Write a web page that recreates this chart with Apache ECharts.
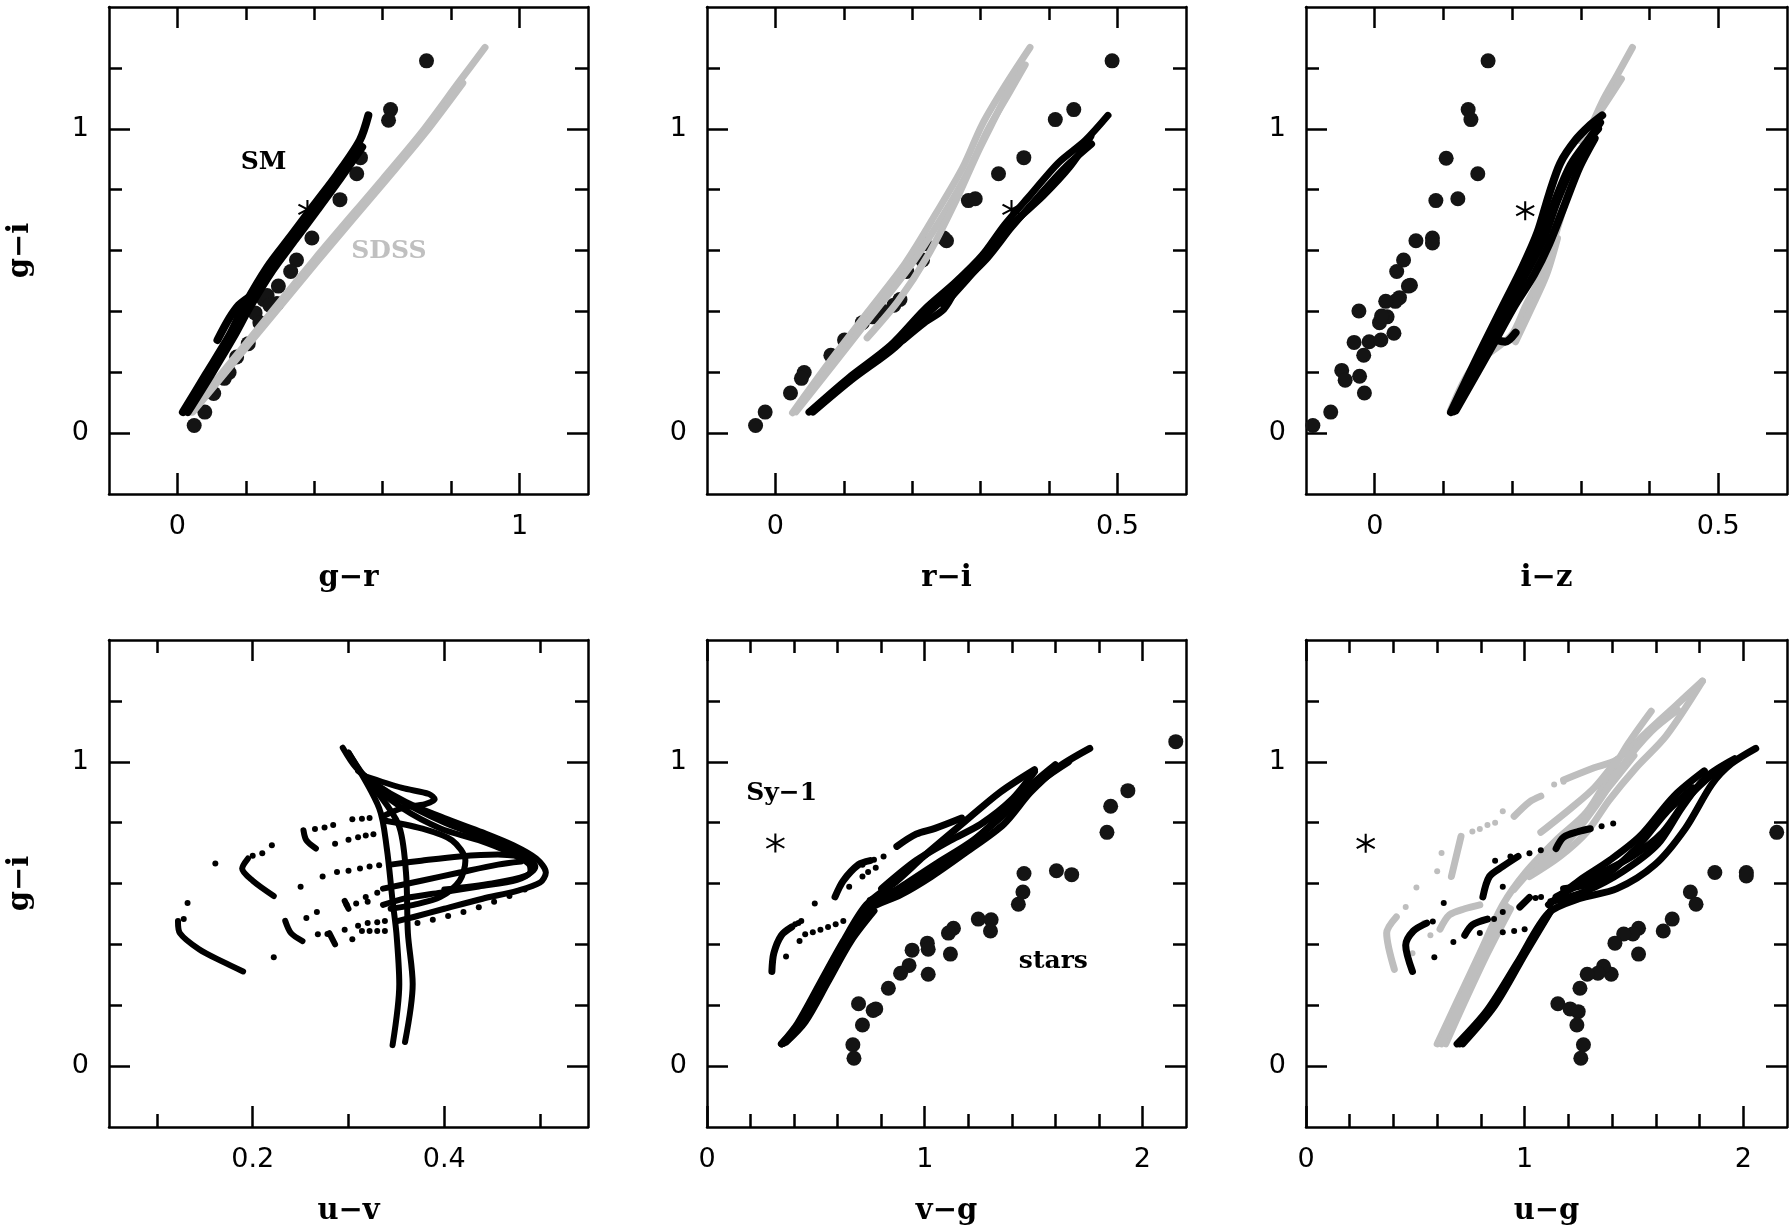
<!DOCTYPE html>
<html>
<head>
<meta charset="utf-8">
<script src="https://cdn.jsdelivr.net/npm/echarts@6/dist/echarts.min.js"></script>
<style>
html, body { margin: 0; padding: 0; background: #fff; }
#main { width: 1792px; height: 1230px; }
</style>
</head>
<body>
<div id="main"></div>
<script>
// ---- axis setup per panel ----
var xNames = ['g\u2212r', 'r\u2212i', 'i\u2212z', 'u\u2212v', 'v\u2212g', 'u\u2212g'];
var xRanges = [[-0.2, 1.2], [-0.1, 0.6], [-0.1, 0.6], [0.05, 0.55], [0, 2.2], [0, 2.2]];
var xTicks = [
    [0, 0.2, 0.4, 0.6, 0.8, 1.0],
    [0, 0.1, 0.2, 0.3, 0.4, 0.5],
    [0, 0.1, 0.2, 0.3, 0.4, 0.5],
    [0.1, 0.2, 0.3, 0.4, 0.5],
    [0.2, 0.4, 0.6, 0.8, 1.0, 1.2, 1.4, 1.6, 1.8, 2.0],
    [0.2, 0.4, 0.6, 0.8, 1.0, 1.2, 1.4, 1.6, 1.8, 2.0]
];
var xLabels = [[0, 1], [0, 0.5], [0, 0.5], [0.2, 0.4], [0, 1, 2], [0, 1, 2]];
var yRange = [-0.2, 1.4];
var yTicks = [0, 0.2, 0.4, 0.6, 0.8, 1.0, 1.2];
var yLabels = [0, 1];

// ---- stars (big dots), [colour, g-i] ----
var grStars = [[0.728,1.223],[0.623,1.063],[0.617,1.028],[0.535,0.905],[0.524,0.852],[0.475,0.767],[0.393,0.641],[0.348,0.569],[0.331,0.531],[0.295,0.483],[0.252,0.439],[0.291,0.426],[0.227,0.395],[0.241,0.363],[0.207,0.294],[0.173,0.250],[0.151,0.199],[0.137,0.180],[0.106,0.130],[0.080,0.069],[0.049,0.025],[0.262,0.452],[0.270,0.420]];
var riStars = [[0.492,1.223],[0.436,1.063],[0.409,1.030],[0.363,0.905],[0.326,0.852],[0.282,0.764],[0.292,0.770],[0.246,0.641],[0.250,0.632],[0.218,0.622],[0.215,0.569],[0.192,0.531],[0.182,0.439],[0.173,0.420],[0.156,0.401],[0.142,0.382],[0.127,0.363],[0.101,0.306],[0.081,0.256],[0.042,0.199],[0.038,0.180],[0.022,0.132],[-0.015,0.069],[-0.029,0.025]];
var izStars = [[0.165,1.223],[0.136,1.063],[0.140,1.030],[0.104,0.903],[0.150,0.852],[0.089,0.764],[0.121,0.770],[0.060,0.632],[0.084,0.641],[0.084,0.625],[0.042,0.569],[0.032,0.531],[0.049,0.483],[0.052,0.486],[0.036,0.445],[0.030,0.433],[0.016,0.433],[-0.023,0.401],[0.018,0.382],[0.007,0.363],[0.010,0.385],[0.028,0.328],[-0.030,0.298],[-0.008,0.300],[0.009,0.306],[-0.016,0.256],[-0.048,0.206],[-0.043,0.174],[-0.022,0.187],[-0.015,0.132],[-0.064,0.069],[-0.090,0.025]];
var vgStars = [[2.153,1.066],[1.933,0.905],[1.854,0.854],[1.837,0.768],[1.605,0.642],[1.675,0.629],[1.456,0.633],[1.451,0.572],[1.430,0.532],[1.246,0.483],[1.305,0.481],[1.302,0.444],[1.132,0.453],[1.109,0.437],[1.118,0.368],[1.012,0.404],[1.016,0.384],[1.016,0.302],[0.942,0.381],[0.928,0.331],[0.889,0.305],[0.833,0.256],[0.775,0.188],[0.763,0.183],[0.696,0.205],[0.714,0.135],[0.670,0.070],[0.675,0.026]];
var ugStars = [[2.153,0.768],[2.014,0.636],[2.014,0.625],[1.870,0.636],[1.758,0.572],[1.784,0.532],[1.675,0.483],[1.634,0.444],[1.521,0.453],[1.495,0.434],[1.521,0.368],[1.453,0.434],[1.413,0.404],[1.396,0.302],[1.361,0.328],[1.335,0.305],[1.286,0.302],[1.253,0.256],[1.152,0.205],[1.208,0.188],[1.245,0.179],[1.239,0.135],[1.269,0.070],[1.257,0.026]];

// ---- Sy-1 asterisk per panel (none visible in u-v) ----
var syOne = [[0.380,0.735], [0.345,0.735], [0.219,0.731], null, [0.314,0.733], [0.273,0.732]];

// ---- SM model tracks (black) ----
var grBlack = [
    [[0.016,0.069],[0.083,0.193],[0.151,0.319],[0.196,0.420],[0.263,0.546],[0.331,0.647],[0.398,0.748],[0.466,0.849],[0.533,0.962],[0.558,1.044]],
    [[0.030,0.069],[0.097,0.190],[0.165,0.318],[0.212,0.415],[0.278,0.535],[0.345,0.637],[0.410,0.735],[0.475,0.835],[0.540,0.940]],
    [[0.117,0.306],[0.151,0.376],[0.179,0.420],[0.207,0.445]]
];
var riBlack = [
    [[0.049,0.069],[0.106,0.180],[0.168,0.288],[0.218,0.407],[0.263,0.496],[0.302,0.584],[0.335,0.685],[0.374,0.786],[0.413,0.887],[0.453,0.962],[0.486,1.044]],
    [[0.055,0.069],[0.112,0.176],[0.175,0.282],[0.225,0.398],[0.270,0.488],[0.310,0.576],[0.345,0.676],[0.384,0.776],[0.423,0.872],[0.462,0.950]],
    [[0.246,0.420],[0.279,0.502],[0.313,0.590],[0.346,0.685],[0.391,0.779],[0.430,0.874],[0.461,0.975]],
    [[0.187,0.306],[0.218,0.363],[0.246,0.407],[0.263,0.470]]
];
var izBlack = [
    [[0.111,0.069],[0.132,0.168],[0.159,0.294],[0.187,0.420],[0.215,0.546],[0.237,0.660],[0.254,0.786],[0.270,0.887],[0.292,0.962],[0.314,1.013],[0.331,1.044]],
    [[0.118,0.075],[0.176,0.306],[0.204,0.420],[0.232,0.521],[0.254,0.622],[0.276,0.748],[0.298,0.874],[0.320,0.968]],
    [[0.200,0.440],[0.222,0.540],[0.245,0.650],[0.262,0.760],[0.285,0.880],[0.310,0.960],[0.325,1.000]],
    [[0.115,0.072],[0.168,0.300],[0.196,0.430],[0.224,0.540],[0.246,0.640],[0.265,0.760],[0.284,0.860],[0.305,0.940],[0.328,1.020]],
    [[0.176,0.306],[0.190,0.300],[0.205,0.330]]
];
var uvBlack = [
    [[0.294,1.046],[0.308,0.980],[0.328,0.927],[0.360,0.868],[0.400,0.815],[0.440,0.768],[0.472,0.726],[0.496,0.682],[0.506,0.636],[0.500,0.603],[0.476,0.576],[0.440,0.550],[0.400,0.517],[0.368,0.490],[0.352,0.477]],
    [[0.300,1.030],[0.320,0.940],[0.356,0.848],[0.396,0.781],[0.436,0.742],[0.468,0.702],[0.488,0.665],[0.490,0.640],[0.476,0.612],[0.436,0.590],[0.396,0.570],[0.360,0.552],[0.336,0.530]],
    [[0.310,0.970],[0.350,0.880],[0.400,0.800],[0.450,0.740],[0.485,0.690],[0.495,0.655],[0.485,0.625],[0.450,0.600],[0.400,0.580]],
    [[0.316,0.954],[0.356,0.914],[0.384,0.894],[0.390,0.877],[0.380,0.861],[0.356,0.848],[0.336,0.821]],
    [[0.336,0.808],[0.376,0.781],[0.408,0.742],[0.422,0.675],[0.416,0.609],[0.396,0.556],[0.368,0.530],[0.344,0.517]],
    [[0.344,0.662],[0.376,0.675],[0.416,0.689],[0.456,0.695],[0.480,0.689]],
    [[0.336,0.583],[0.376,0.609],[0.416,0.636],[0.456,0.662],[0.480,0.672]],
    [[0.300,1.030],[0.332,0.848],[0.340,0.715],[0.346,0.543],[0.350,0.437],[0.353,0.270],[0.346,0.069]],
    [[0.320,0.940],[0.352,0.795],[0.360,0.636],[0.362,0.437],[0.367,0.270],[0.359,0.079]],
    [[0.122,0.477],[0.124,0.437],[0.144,0.384],[0.168,0.344],[0.190,0.311]],
    [[0.195,0.682],[0.189,0.649],[0.200,0.609],[0.222,0.559]],
    [[0.253,0.775],[0.256,0.742],[0.266,0.715]],
    [[0.234,0.477],[0.240,0.437],[0.252,0.411]],
    [[0.280,0.437],[0.286,0.400]],
    [[0.296,0.543],[0.300,0.517]]
];
var uvDots = [[0.128,0.483],[0.132,0.536],[0.161,0.666],[0.200,0.691],[0.210,0.699],[0.220,0.726],[0.222,0.358],[0.250,0.589],[0.256,0.487],[0.267,0.506],[0.265,0.779],[0.275,0.784],[0.284,0.792],[0.286,0.731],[0.300,0.744],[0.310,0.752],[0.318,0.758],[0.326,0.762],[0.304,0.811],[0.314,0.813],[0.322,0.815],[0.273,0.623],[0.288,0.638],[0.300,0.642],[0.312,0.649],[0.322,0.656],[0.332,0.660],[0.318,0.556],[0.330,0.570],[0.298,0.530],[0.308,0.534],[0.320,0.540],[0.268,0.433],[0.278,0.434],[0.296,0.448],[0.304,0.417],[0.310,0.461],[0.314,0.444],[0.322,0.444],[0.330,0.444],[0.338,0.444],[0.320,0.470],[0.330,0.473],[0.338,0.477],[0.372,0.470],[0.388,0.481],[0.404,0.493],[0.420,0.506],[0.436,0.522],[0.452,0.540],[0.468,0.559],[0.484,0.580]];
var vgBlack = [
    [[0.342,0.073],[0.416,0.132],[0.521,0.265],[0.626,0.397],[0.732,0.510],[0.889,0.563],[1.030,0.623],[1.188,0.702],[1.363,0.795],[1.486,0.900],[1.609,0.980],[1.758,1.044]],
    [[0.342,0.073],[0.416,0.140],[0.521,0.275],[0.626,0.410],[0.732,0.530],[0.872,0.609],[0.995,0.689],[1.170,0.795],[1.346,0.900],[1.504,0.974]],
    [[0.363,0.079],[0.451,0.146],[0.556,0.278],[0.661,0.411],[0.767,0.510]],
    [[0.352,0.075],[0.435,0.140],[0.540,0.272],[0.645,0.405],[0.750,0.520]],
    [[0.767,0.530],[0.907,0.596],[1.047,0.662],[1.223,0.742],[1.398,0.848],[1.539,0.940],[1.661,1.000]],
    [[0.802,0.583],[0.960,0.675],[1.118,0.742],[1.258,0.795],[1.398,0.874],[1.504,0.967]],
    [[0.750,0.545],[0.890,0.585],[1.040,0.645],[1.200,0.725],[1.360,0.830],[1.500,0.930],[1.600,0.990]],
    [[0.298,0.311],[0.307,0.371],[0.342,0.430],[0.389,0.457]],
    [[0.588,0.556],[0.626,0.609],[0.696,0.662],[0.749,0.675]],
    [[0.872,0.722],[0.960,0.762],[1.047,0.781],[1.170,0.815]]
];
var vgDots = [[0.433,0.477],[0.495,0.534],[0.363,0.360],[0.425,0.411],[0.451,0.433],[0.486,0.440],[0.521,0.448],[0.556,0.457],[0.591,0.466],[0.626,0.477],[0.653,0.589],[0.714,0.623],[0.740,0.638],[0.775,0.652],[0.811,0.689],[0.767,0.678],[0.714,0.662],[0.405,0.466],[0.420,0.470]];
var ugBlack = [
    [[0.691,0.073],[0.830,0.185],[0.970,0.344],[1.109,0.503],[1.248,0.550],[1.422,0.583],[1.596,0.662],[1.735,0.781],[1.857,0.927],[1.944,0.993],[2.057,1.044]],
    [[0.717,0.073],[0.864,0.199],[1.004,0.371],[1.126,0.517]],
    [[0.703,0.073],[0.847,0.192],[0.987,0.358],[1.118,0.510]],
    [[1.109,0.530],[1.248,0.609],[1.387,0.675],[1.527,0.755],[1.683,0.887],[1.822,0.970]],
    [[1.144,0.556],[1.318,0.623],[1.492,0.689],[1.631,0.768],[1.753,0.887],[1.892,0.980]],
    [[1.178,0.583],[1.335,0.609],[1.509,0.715],[1.648,0.834],[1.770,0.914]],
    [[1.120,0.540],[1.280,0.575],[1.450,0.640],[1.610,0.730],[1.720,0.850],[1.830,0.950],[1.960,1.010]],
    [[0.487,0.311],[0.456,0.397],[0.491,0.444],[0.552,0.470]],
    [[0.809,0.556],[0.839,0.623],[0.900,0.656],[0.970,0.689]],
    [[1.144,0.715],[1.178,0.752],[1.248,0.771],[1.300,0.780]],
    [[0.726,0.430],[0.761,0.464],[0.830,0.483]],
    [[0.978,0.523],[1.022,0.554]]
];
var ugDots = [[0.580,0.475],[0.630,0.536],[0.587,0.358],[0.674,0.408],[1.022,0.699],[1.074,0.709],[1.352,0.788],[1.405,0.797],[0.900,0.506],[0.900,0.589],[0.935,0.689],[0.865,0.675],[0.860,0.483],[0.795,0.437],[0.900,0.440],[0.952,0.444],[1.000,0.450],[1.050,0.552],[1.075,0.556]];

// ---- SDSS tracks (grey) ----
var grGray = [
    [[0.038,0.069],[0.200,0.294],[0.400,0.570],[0.601,0.836],[0.713,0.987],[0.826,1.158],[0.899,1.267]],
    [[0.045,0.069],[0.210,0.294],[0.410,0.566],[0.610,0.832],[0.722,0.983],[0.834,1.150]]
];
var riGray = [
    [[0.025,0.067],[0.078,0.231],[0.134,0.395],[0.190,0.559],[0.235,0.723],[0.274,0.874],[0.302,1.013],[0.335,1.139],[0.372,1.267]],
    [[0.030,0.070],[0.086,0.229],[0.142,0.390],[0.198,0.552],[0.244,0.712],[0.282,0.862],[0.310,0.995],[0.342,1.120],[0.365,1.210]],
    [[0.134,0.313],[0.179,0.433],[0.223,0.584],[0.263,0.760],[0.296,0.924],[0.324,1.050],[0.349,1.164]]
];
var izGray = [
    [[0.110,0.073],[0.143,0.218],[0.198,0.319],[0.220,0.420],[0.243,0.521],[0.259,0.622],[0.276,0.748],[0.292,0.874],[0.309,0.975],[0.331,1.088],[0.353,1.177],[0.375,1.267]],
    [[0.298,0.962],[0.326,1.050],[0.359,1.164]],
    [[0.205,0.300],[0.228,0.410],[0.250,0.520],[0.266,0.640]]
];
var ugGray = [
    [[0.600,0.073],[0.691,0.212],[0.795,0.371],[0.900,0.530],[1.004,0.636],[1.144,0.742],[1.283,0.834],[1.387,0.954],[1.474,1.060],[1.579,1.166]],
    [[0.639,0.073],[0.726,0.212],[0.830,0.371],[0.935,0.517]],
    [[0.618,0.073],[0.708,0.212],[0.812,0.371],[0.918,0.525]],
    [[1.022,0.623],[1.161,0.689],[1.283,0.768],[1.387,0.874],[1.509,0.980],[1.648,1.086],[1.813,1.265]],
    [[1.178,0.940],[1.318,0.980],[1.422,1.007],[1.561,1.099],[1.683,1.179],[1.813,1.265]],
    [[1.074,0.768],[1.213,0.848],[1.318,0.914],[1.422,1.007]],
    [[0.950,0.580],[1.100,0.700],[1.250,0.800],[1.400,0.930],[1.500,1.020]],
    [[1.050,0.640],[1.200,0.740],[1.330,0.860],[1.450,0.990],[1.580,1.100],[1.700,1.170]],
    [[0.404,0.318],[0.369,0.437],[0.413,0.490]],
    [[0.665,0.623],[0.709,0.755]],
    [[0.952,0.821],[1.022,0.868],[1.074,0.887]],
    [[0.613,0.450],[0.656,0.497],[0.726,0.517],[0.795,0.530]]
];
var ugGrayDots = [[0.456,0.523],[0.505,0.587],[0.487,0.371],[0.761,0.771],[0.795,0.779],[0.830,0.792],[0.865,0.800],[0.900,0.837],[1.135,0.925],[1.178,0.934],[0.569,0.430],[0.540,0.470],[0.620,0.700],[0.600,0.640]];

// ---- annotations [panel, x, g-i, text, colour] ----
var notes = [
    [0, 0.252, 0.889, 'SM', '#000'],
    [0, 0.618, 0.597, 'SDSS', '#c0c0c0'],
    [4, 0.343, 0.897, 'Sy\u22121', '#000'],
    [4, 1.591, 0.344, 'stars', '#000']
];

// ---- layout ----
var lefts = [109, 707, 1306];
var widths = [479, 479, 481];
var tops = [7, 640];
var H = 487;

var FRAME = {color: '#000', width: 2.5};
var grids = [], xAxes = [], yAxes = [], series = [];

for (var i = 0; i < 6; i++) {
    var col = i % 3, row = Math.floor(i / 3);
    grids.push({left: lefts[col], top: tops[row], width: widths[col], height: H});
    var xr = xRanges[i];
    // bottom short ticks + frame + labels
    xAxes.push({
        gridIndex: i, type: 'value', position: 'bottom', min: xr[0], max: xr[1],
        splitLine: {show: false},
        axisLine: {onZero: false, lineStyle: FRAME},
        axisTick: {inside: true, length: 13, customValues: xTicks[i], lineStyle: FRAME},
        axisLabel: {customValues: xLabels[i], margin: 19, fontSize: 27, color: '#000', fontFamily: 'DejaVu Sans'},
        name: xNames[i], nameLocation: 'middle', nameGap: 70,
        nameTextStyle: {fontSize: 29, fontWeight: 'bold', color: '#000', fontFamily: 'DejaVu Serif'}
    });
    // bottom long ticks
    xAxes.push({
        gridIndex: i, type: 'value', position: 'bottom', min: xr[0], max: xr[1],
        splitLine: {show: false}, axisLine: {show: false, onZero: false},
        axisTick: {inside: true, length: 21, customValues: xLabels[i], lineStyle: FRAME},
        axisLabel: {show: false}
    });
    // top short/long ticks
    xAxes.push({
        gridIndex: i, type: 'value', position: 'top', min: xr[0], max: xr[1],
        splitLine: {show: false}, axisLine: {onZero: false, lineStyle: FRAME},
        axisTick: {inside: true, length: 13, customValues: xTicks[i], lineStyle: FRAME},
        axisLabel: {show: false}
    });
    xAxes.push({
        gridIndex: i, type: 'value', position: 'top', min: xr[0], max: xr[1],
        splitLine: {show: false}, axisLine: {show: false, onZero: false},
        axisTick: {inside: true, length: 21, customValues: xLabels[i], lineStyle: FRAME},
        axisLabel: {show: false}
    });

    var yMain = {
        gridIndex: i, type: 'value', position: 'left', min: yRange[0], max: yRange[1],
        splitLine: {show: false},
        axisLine: {onZero: false, lineStyle: FRAME},
        axisTick: {inside: true, length: 13, customValues: yTicks, lineStyle: FRAME},
        axisLabel: {customValues: yLabels, margin: 20, fontSize: 27, color: '#000', fontFamily: 'DejaVu Sans'}
    };
    if (col === 0) {
        yMain.name = 'g\u2212i';
        yMain.nameLocation = 'middle';
        yMain.nameGap = 74;
        yMain.nameTextStyle = {fontSize: 29, fontWeight: 'bold', color: '#000', fontFamily: 'DejaVu Serif'};
    }
    yAxes.push(yMain);
    yAxes.push({
        gridIndex: i, type: 'value', position: 'left', min: yRange[0], max: yRange[1],
        splitLine: {show: false}, axisLine: {show: false, onZero: false},
        axisTick: {inside: true, length: 21, customValues: yLabels, lineStyle: FRAME},
        axisLabel: {show: false}
    });
    yAxes.push({
        gridIndex: i, type: 'value', position: 'right', min: yRange[0], max: yRange[1],
        splitLine: {show: false}, axisLine: {onZero: false, lineStyle: FRAME},
        axisTick: {inside: true, length: 13, customValues: yTicks, lineStyle: FRAME},
        axisLabel: {show: false}
    });
    yAxes.push({
        gridIndex: i, type: 'value', position: 'right', min: yRange[0], max: yRange[1],
        splitLine: {show: false}, axisLine: {show: false, onZero: false},
        axisTick: {inside: true, length: 21, customValues: yLabels, lineStyle: FRAME},
        axisLabel: {show: false}
    });
}

function addLines(p, list, color, width, z) {
    list.forEach(function (pts) {
        series.push({
            type: 'line', xAxisIndex: 4 * p, yAxisIndex: 4 * p, data: pts,
            symbol: 'none', showSymbol: false, smooth: 0.3, silent: true, z: z,
            lineStyle: {color: color, width: width, cap: 'round', join: 'round', opacity: 1}
        });
    });
}
function addDots(p, pts, color, size, z) {
    series.push({
        type: 'scatter', xAxisIndex: 4 * p, yAxisIndex: 4 * p, data: pts,
        symbol: 'circle', symbolSize: size, silent: true, z: z,
        itemStyle: {color: color, opacity: 1}
    });
}
var ASTERISK = 'path://M-1,-10L1,-10L1,10L-1,10Z M8.16,5.87L-9.16,-4.13L-8.16,-5.87L9.16,4.13Z M-8.16,5.87L-9.16,4.13L8.16,-5.87L9.16,-4.13Z';

var starSets = [grStars, riStars, izStars, null, vgStars, ugStars];
var blackSets = [grBlack, riBlack, izBlack, uvBlack, vgBlack, ugBlack];
var graySets = [grGray, riGray, izGray, null, null, ugGray];
var blackWidth = [8, 7, 8, 6, 7, 7];

for (var p = 0; p < 6; p++) {
    if (starSets[p]) addDots(p, starSets[p], '#141414', 15, 2);
    if (syOne[p]) {
        series.push({
            type: 'scatter', xAxisIndex: 4 * p, yAxisIndex: 4 * p, data: [syOne[p]],
            symbol: ASTERISK, symbolSize: 19, silent: true, z: 2, itemStyle: {color: '#000', opacity: 1}
        });
    }
    if (graySets[p]) addLines(p, graySets[p], '#bebebe', 7, 3);
    addLines(p, blackSets[p], '#000', blackWidth[p], 4);
}
addDots(3, uvDots, '#000', 6, 4);
addDots(4, vgDots, '#000', 6, 4);
addDots(5, ugGrayDots, '#bebebe', 6, 3);
addDots(5, ugDots, '#000', 6, 4);

notes.forEach(function (n) {
    series.push({
        type: 'scatter', xAxisIndex: 4 * n[0], yAxisIndex: 4 * n[0], data: [[n[1], n[2]]],
        symbolSize: 1, silent: true, z: 5, itemStyle: {color: 'rgba(0,0,0,0)', opacity: 1},
        label: {
            show: true, position: 'inside', formatter: n[3], color: n[4], opacity: 1,
            fontSize: 25, fontWeight: 'bold', fontFamily: 'DejaVu Serif'
        }
    });
});

var chart = echarts.init(document.getElementById('main'));
chart.setOption({
    animation: false,
    backgroundColor: '#fff',
    grid: grids,
    xAxis: xAxes,
    yAxis: yAxes,
    series: series
});
</script>
</body>
</html>
